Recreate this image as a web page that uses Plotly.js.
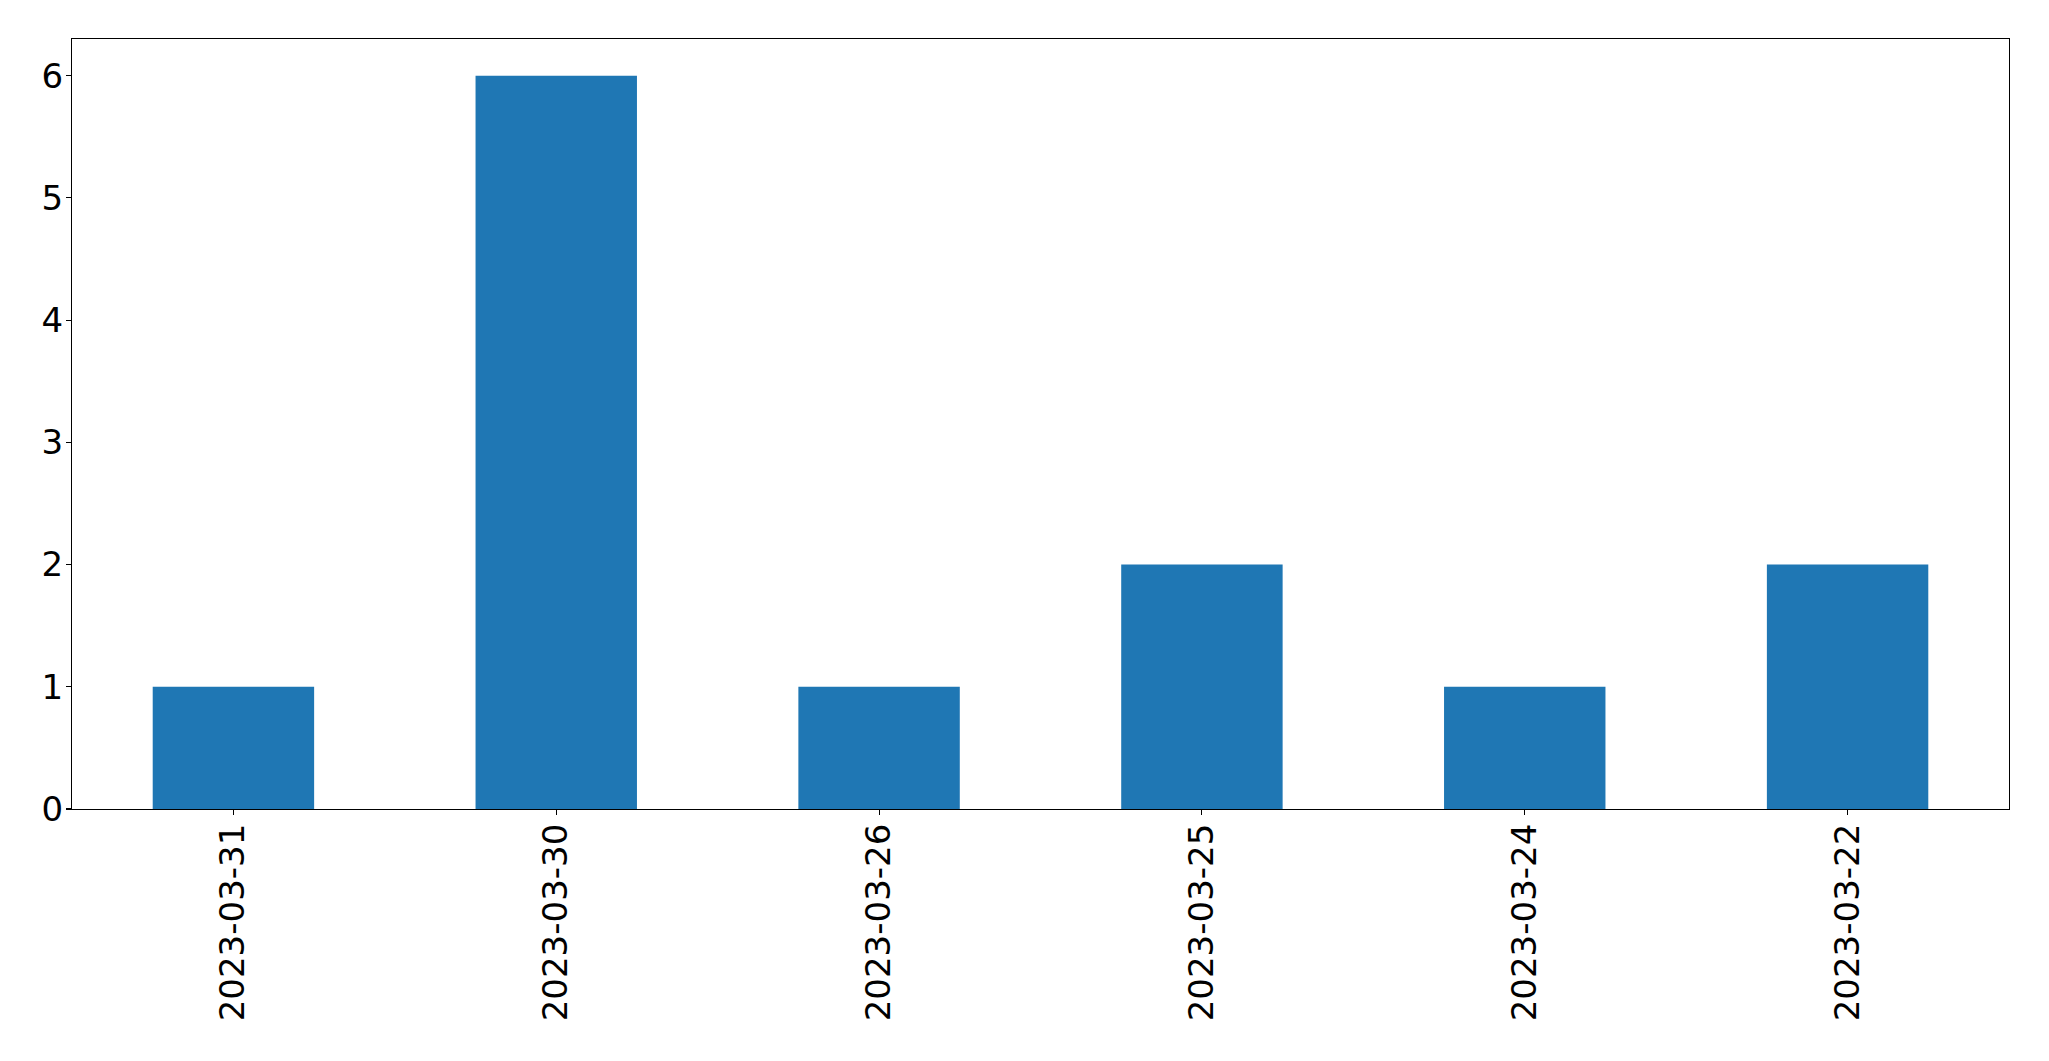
<!DOCTYPE html>
<html>
<head>
<meta charset="utf-8">
<script src="https://cdn.plot.ly/plotly-3.0.1.min.js"></script>
<style>html,body{margin:0;padding:0;background:#fff;}#chart{width:2049px;height:1061px;}</style>
</head>
<body>
<div id="chart"></div>
<script>
const categories = ["2023-03-31", "2023-03-30", "2023-03-26", "2023-03-25", "2023-03-24", "2023-03-22"];
const counts = [1, 6, 1, 2, 1, 2];
const yTicks = [0, 1, 2, 3, 4, 5, 6];

const trace = {
  type: 'bar',
  x: categories,
  y: counts,
  width: 0.5,
  marker: {color: '#1f77b4', line: {width: 0}},
  hoverinfo: 'x+y'
};

const font = {family: 'DejaVu Sans, sans-serif', size: 34, color: '#000'};

const layout = {
  width: 2049,
  height: 1061,
  paper_bgcolor: '#fff',
  plot_bgcolor: '#fff',
  margin: {l: 72, r: 40, t: 39, b: 252, pad: 0},
  showlegend: false,
  font: font,
  bargap: 0.5,
  xaxis: {
    type: 'category',
    range: [-0.5, 5.5],
    tickangle: -90,
    ticks: 'outside',
    ticklen: 5,
    tickwidth: 1.1,
    tickcolor: '#000',
    showline: true,
    linecolor: '#000',
    linewidth: 1.1,
    mirror: true,
    showgrid: false,
    zeroline: false,
    tickfont: font,
    ticklabelstandoff: -5
  },
  yaxis: {
    range: [0, 6.3],
    tickvals: yTicks,
    ticktext: yTicks.map(String),
    ticks: 'outside',
    ticklen: 5,
    tickwidth: 1.1,
    tickcolor: '#000',
    showline: true,
    linecolor: '#000',
    linewidth: 1.1,
    mirror: true,
    showgrid: false,
    zeroline: false,
    tickfont: font,
    ticklabelstandoff: -4
  }
};

Plotly.newPlot('chart', [trace], layout, {displayModeBar: false, staticPlot: true});
</script>
</body>
</html>
